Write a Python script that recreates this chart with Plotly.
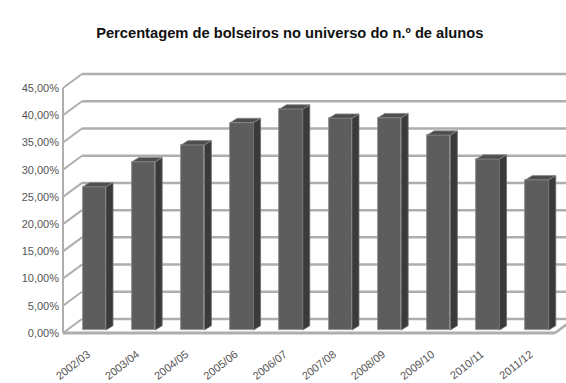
import plotly.graph_objects as go

# Academic years and share of scholarship holders among all students (%)
years = ["2002/03", "2003/04", "2004/05", "2005/06", "2006/07",
         "2007/08", "2008/09", "2009/10", "2010/11", "2011/12"]
share_pct = [26.3, 30.9, 34.0, 38.1, 40.6, 38.9, 39.0, 35.8, 31.4, 27.6]
y_ticks = [0, 5, 10, 15, 20, 25, 30, 35, 40, 45]
y_tick_text = ["0,00%", "5,00%", "10,00%", "15,00%", "20,00%",
               "25,00%", "30,00%", "35,00%", "40,00%", "45,00%"]

W, H = 566, 383
N = len(years)

# pseudo-3D geometry (in data units of the front plane)
WDX, WDY = 0.386, 2.57      # depth of the walls/floor
BDX, BDY = 0.142, 0.79      # depth of each bar
BAR_W = 0.474
BAR_SHIFT_X, BAR_BASE = 0.137, 0.55
X_RANGE = [-0.061, 10.224]
Y_RANGE = [-2.204, 50.15]

GRID = "#aeaeae"
FRONT, SIDE, TOP = "#5d5d5d", "#3a3a3a", "#4e4e4e"
LABEL = "#555555"
FONT = "Liberation Sans, Arial, sans-serif"

fig = go.Figure()
shapes = []

y_max = y_ticks[-1]
# back wall gridlines + left wall diagonals
for v in y_ticks:
    shapes.append(dict(type="line", xref="x", yref="y", layer="below",
                       x0=WDX, y0=v + WDY, x1=X_RANGE[1] + 1, y1=v + WDY,
                       line=dict(color=GRID, width=2.5)))
    shapes.append(dict(type="line", xref="x", yref="y", layer="below",
                       x0=0, y0=v, x1=WDX, y1=v + WDY,
                       line=dict(color=GRID, width=2)))
# front-left vertical edge of the side wall
shapes.append(dict(type="line", xref="x", yref="y", layer="below",
                   x0=0, y0=0, x1=0, y1=y_max,
                   line=dict(color=GRID, width=2)))
# floor front edge and right edge
shapes.append(dict(type="line", xref="x", yref="y", layer="below",
                   x0=0, y0=0, x1=N, y1=0,
                   line=dict(color=GRID, width=3)))
shapes.append(dict(type="line", xref="x", yref="y", layer="below",
                   x0=N, y0=0, x1=N + WDX, y1=WDY,
                   line=dict(color=GRID, width=2.5)))

# bar positions
xc = [i + 0.5 + BAR_SHIFT_X for i in range(N)]

# side faces
sx, sy = [], []
for c, v in zip(xc, share_pct):
    xr = c + BAR_W / 2
    top = BAR_BASE + v
    sx += [xr, xr + BDX, xr + BDX, xr, xr, None]
    sy += [BAR_BASE, BAR_BASE + BDY, top + BDY, top, BAR_BASE, None]
fig.add_trace(go.Scatter(x=sx, y=sy, mode="lines", fill="toself",
                         fillcolor=SIDE, line=dict(color="#6f6f6f", width=0.8),
                         hoverinfo="skip", showlegend=False))
# top faces
tx, ty = [], []
for c, v in zip(xc, share_pct):
    xl, xr = c - BAR_W / 2, c + BAR_W / 2
    top = BAR_BASE + v
    tx += [xl, xl + BDX, xr + BDX, xr, xl, None]
    ty += [top, top + BDY, top + BDY, top, top, None]
fig.add_trace(go.Scatter(x=tx, y=ty, mode="lines", fill="toself",
                         fillcolor=TOP, line=dict(color="#8a8a8a", width=0.8),
                         hoverinfo="skip", showlegend=False))
# front faces
fig.add_trace(go.Bar(x=xc, y=share_pct, base=BAR_BASE, width=BAR_W,
                     marker=dict(color=FRONT, line=dict(color="#8a8a8a", width=0.8)),
                     showlegend=False))

fig.update_layout(
    width=W, height=H,
    margin=dict(l=60, r=0, t=60, b=38),
    paper_bgcolor="white", plot_bgcolor="white",
    shapes=shapes,
    title=dict(text="<b>Percentagem de bolseiros no universo do n.º de alunos</b>",
               x=0.512, xanchor="center", y=1 - 33 / H, yanchor="middle",
               yref="container",
               font=dict(family=FONT, size=14.7, color="#111111")),
    xaxis=dict(range=X_RANGE, tickvals=[i + 0.5 for i in range(N)],
               ticktext=years, tickangle=-38, showgrid=False, zeroline=False,
               showline=False, ticks="",
               tickfont=dict(family=FONT, size=11, color=LABEL)),
    yaxis=dict(range=Y_RANGE, tickvals=y_ticks, ticktext=y_tick_text,
               showgrid=False, zeroline=False, showline=False, ticks="",
               tickfont=dict(family=FONT, size=11, color=LABEL)),
    bargap=0,
)

fig.write_html("out.html")
